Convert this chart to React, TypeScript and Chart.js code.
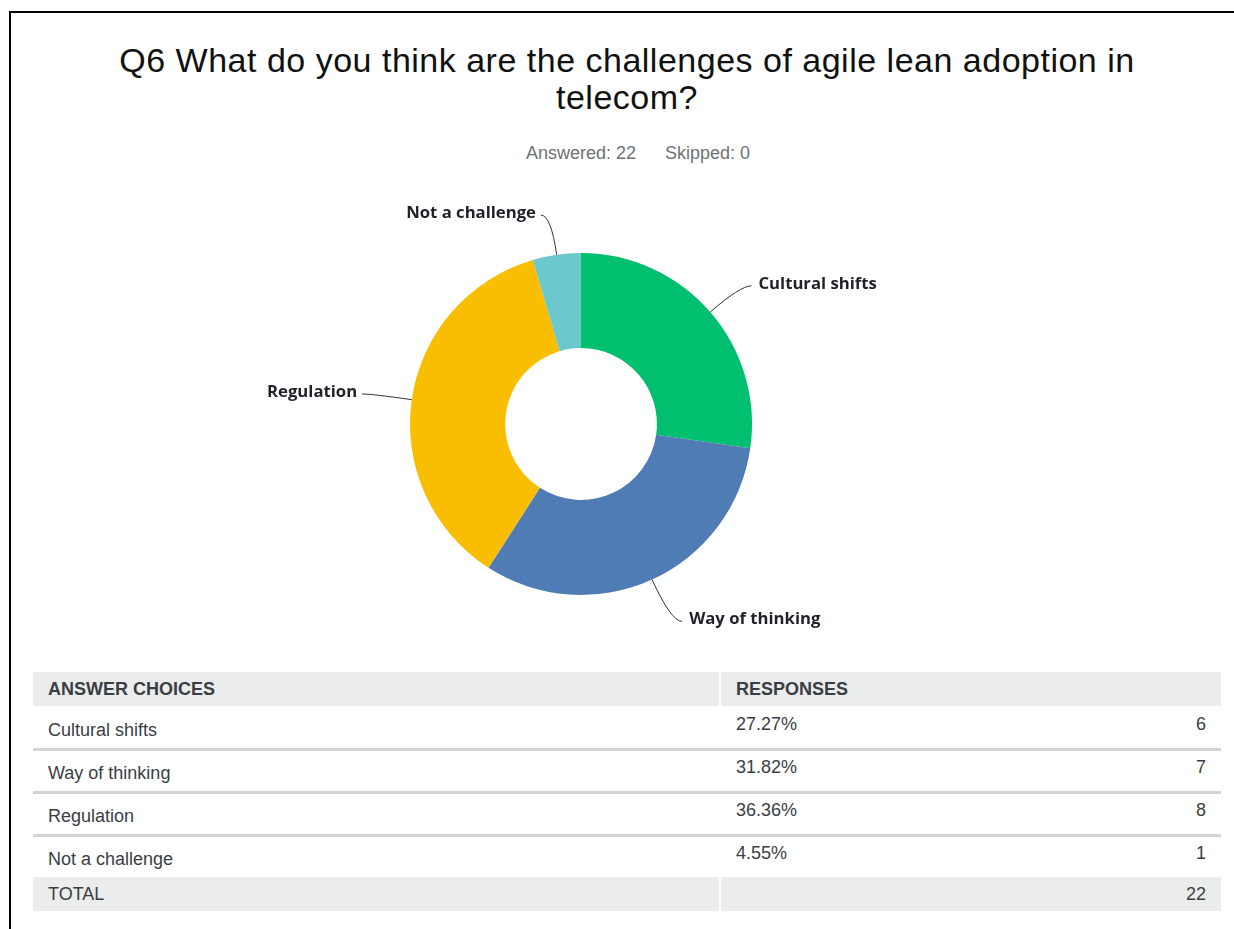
import React, { useEffect, useRef } from "react";
import { Chart, registerables } from "chart.js";

Chart.register(...registerables);

const categories = ["Cultural shifts", "Way of thinking", "Regulation", "Not a challenge"];
const responses = [6, 7, 8, 1];
const percentLabels = ["27.27%", "31.82%", "36.36%", "4.55%"];
const totalResponses = 22;
const sliceColors = ["#00BF6F", "#507CB6", "#F9BE00", "#6BC8CD"];
const titleLines = ["Q6 What do you think are the challenges of agile lean adoption in", "telecom?"];
const answeredText = "Answered: 22";
const skippedText = "Skipped: 0";

const leaderLabelPlugin = {
  id: "leaderLabels",
  afterDatasetsDraw(chart: any) {
    const ctx = chart.ctx;
    const meta = chart.getDatasetMeta(0);
    ctx.save();
    meta.data.forEach((arc: any, i: number) => {
      const p = arc.getProps(["x", "y", "startAngle", "endAngle", "outerRadius"], true);
      const mid = (p.startAngle + p.endAngle) / 2;
      const c = Math.cos(mid);
      const s = Math.sin(mid);
      const ext = s > 0 ? 46 : 40;
      const sx = p.x + c * p.outerRadius;
      const sy = p.y + s * p.outerRadius;
      const ex = p.x + c * (p.outerRadius + ext);
      const ey = p.y + s * (p.outerRadius + ext);
      const right = c >= 0;
      const tx = ex + (right ? 11 : -10);
      ctx.beginPath();
      ctx.moveTo(sx, sy);
      ctx.quadraticCurveTo(ex, ey, tx, ey);
      ctx.strokeStyle = "#333333";
      ctx.lineWidth = 1;
      ctx.stroke();
      ctx.font = 'bold 16.7px "Open Sans"';
      ctx.fillStyle = "#1e2228";
      ctx.textBaseline = "middle";
      ctx.textAlign = right ? "left" : "right";
      ctx.fillText(chart.data.labels[i], tx + (right ? 7 : -5), ey - 2);
    });
    ctx.restore();
  },
};

function DonutChart() {
  const ref = useRef<HTMLCanvasElement | null>(null);
  useEffect(() => {
    if (!ref.current) return;
    const chart = new Chart(ref.current, {
      type: "doughnut",
      data: {
        labels: categories,
        datasets: [
          {
            data: responses,
            backgroundColor: sliceColors,
            borderWidth: 0,
          },
        ],
      },
      options: {
        animation: false,
        responsive: false,
        radius: 171,
        cutout: "44.4%",
        plugins: {
          legend: { display: false },
          tooltip: { enabled: false },
        },
        layout: { padding: 0 },
      } as any,
      plugins: [leaderLabelPlugin],
    });
    return () => chart.destroy();
  }, []);
  return (
    <canvas
      ref={ref}
      width={700}
      height={488}
      style={{ position: "absolute", left: 231, top: 180, width: 700, height: 488 }}
    />
  );
}

const tableFont = '"Liberation Sans", Arial, sans-serif';
const textColor = "#3a3e44";
const headerBg = "#EBECEC";
const lineColor = "#D2D3D4";
const fs = 18;

export default function App() {
  const rowTops = [706, 749, 792, 835];
  return (
    <div
      style={{
        position: "absolute",
        left: 0,
        top: 0,
        width: 1234,
        height: 929,
        overflow: "hidden",
        background: "#fff",
        fontFamily: tableFont,
      }}
    >
      <div
        style={{
          position: "absolute",
          left: 9,
          top: 11,
          width: 1240,
          height: 940,
          borderTop: "2px solid #000",
          borderLeft: "2px solid #000",
        }}
      />
      <div
        style={{
          position: "absolute",
          left: 0,
          top: 42,
          width: 1254,
          textAlign: "center",
          fontSize: 34,
          letterSpacing: 0.5,
          lineHeight: "37px",
          color: "#111",
        }}
      >
        {titleLines[0]}
        <br />
        {titleLines[1]}
      </div>
      <div
        style={{
          position: "absolute",
          left: 0,
          top: 142,
          width: 1276,
          display: "flex",
          justifyContent: "center",
          gap: 29,
          fontSize: 18,
          lineHeight: "22px",
          color: "#6f7275",
        }}
      >
        <span>{answeredText}</span>
        <span>{skippedText}</span>
      </div>
      <DonutChart />
      {/* header */}
      <div style={{ position: "absolute", left: 33, top: 672, width: 1188, height: 34, background: headerBg }} />
      <div style={{ position: "absolute", left: 719, top: 672, width: 2, height: 34, background: "#fff" }} />
      <div
        style={{
          position: "absolute",
          left: 48,
          top: 672,
          lineHeight: "34px",
          fontSize: fs,
          fontWeight: "bold",
          color: textColor,
        }}
      >
        ANSWER CHOICES
      </div>
      <div
        style={{
          position: "absolute",
          left: 736,
          top: 672,
          lineHeight: "34px",
          fontSize: fs,
          fontWeight: "bold",
          color: textColor,
        }}
      >
        RESPONSES
      </div>
      {categories.map((cat, i) => (
        <React.Fragment key={cat}>
          <div
            style={{
              position: "absolute",
              left: 48,
              top: rowTops[i] + 14,
              lineHeight: "20px",
              fontSize: fs,
              color: textColor,
            }}
          >
            {cat}
          </div>
          <div
            style={{
              position: "absolute",
              left: 736,
              top: rowTops[i] + 8,
              lineHeight: "20px",
              fontSize: fs,
              color: textColor,
            }}
          >
            {percentLabels[i]}
          </div>
          <div
            style={{
              position: "absolute",
              left: 1000,
              width: 206,
              textAlign: "right",
              top: rowTops[i] + 8,
              lineHeight: "20px",
              fontSize: fs,
              color: textColor,
            }}
          >
            {responses[i]}
          </div>
          {i < categories.length - 1 && (
            <div
              style={{
                position: "absolute",
                left: 33,
                top: rowTops[i] + 42,
                width: 1188,
                height: 3,
                background: lineColor,
              }}
            />
          )}
        </React.Fragment>
      ))}
      {/* total */}
      <div style={{ position: "absolute", left: 33, top: 877, width: 1188, height: 34, background: headerBg }} />
      <div style={{ position: "absolute", left: 719, top: 877, width: 2, height: 34, background: "#fff" }} />
      <div
        style={{
          position: "absolute",
          left: 48,
          top: 877,
          lineHeight: "34px",
          fontSize: fs,
          color: textColor,
        }}
      >
        TOTAL
      </div>
      <div
        style={{
          position: "absolute",
          left: 1000,
          width: 206,
          textAlign: "right",
          top: 877,
          lineHeight: "34px",
          fontSize: fs,
          color: textColor,
        }}
      >
        {totalResponses}
      </div>
    </div>
  );
}
